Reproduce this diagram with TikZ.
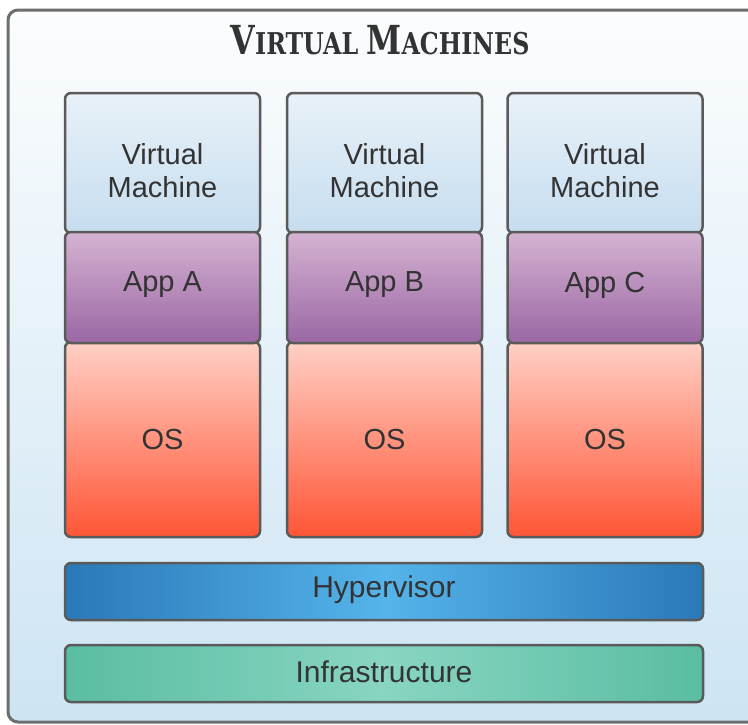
\documentclass[tikz,border=0pt]{standalone}
\usepackage{fontspec}
\setmainfont{Liberation Sans}
\newfontfamily\titlefont{DejaVu Serif Condensed}
\usetikzlibrary{positioning}
\definecolor{bordc}{HTML}{5A5A5A}
\definecolor{framec}{HTML}{6E6E6E}
\definecolor{txtc}{HTML}{333333}
\definecolor{vmtop}{HTML}{E8F1F8}
\definecolor{vmbot}{HTML}{C6DDEF}
\definecolor{apptop}{HTML}{D5B3D2}
\definecolor{appbot}{HTML}{9A67A4}
\definecolor{ostop}{HTML}{FFD0C5}
\definecolor{osbot}{HTML}{FF5536}
\definecolor{hypedge}{HTML}{2A78B8}
\definecolor{hypmid}{HTML}{55B4EA}
\definecolor{infedge}{HTML}{5ABDA2}
\definecolor{infmid}{HTML}{88D5C2}
\definecolor{bgtop}{HTML}{FBFDFE}
\definecolor{bgbot}{HTML}{CDE4F3}
\tikzset{
  layerbox/.style={draw=bordc, line width=2.5pt, rounded corners=6pt, inner sep=0pt, minimum width=195pt},
  vmbox/.style={layerbox, top color=vmtop, bottom color=vmbot, minimum height=140pt},
  appbox/.style={layerbox, top color=apptop, bottom color=appbot, minimum height=111pt},
  osbox/.style={layerbox, top color=ostop, bottom color=osbot, minimum height=195pt},
  barbox/.style={draw=bordc, line width=2.5pt, rounded corners=6pt, inner sep=0pt, minimum width=638pt, minimum height=57pt},
  lbl/.style={text=txtc, font=\fontsize{29}{33}\selectfont, align=center, inner sep=0pt},
  barlbl/.style={text=txtc, font=\fontsize{30}{33}\selectfont, inner sep=0pt}
}
\begin{document}
\begin{tikzpicture}[x=1pt,y=-1pt]
\useasboundingbox (0,0) rectangle (748,724);
\clip (0,0) rectangle (748,724);
\fill[white] (0,0) rectangle (748,724);
\node[draw=framec, line width=3pt, rounded corners=10pt, top color=bgtop, bottom color=bgbot, minimum width=762pt, minimum height=712pt, inner sep=0pt] (frame) at (389,366) {};
\node[text=txtc, inner sep=0pt] (title) at (380,40) {\scalebox{0.88}[1]{\titlefont\bfseries\fontsize{40}{40}\selectfont V\fontsize{30}{30}\selectfont IRTUAL \fontsize{40}{40}\selectfont M\fontsize{30}{30}\selectfont ACHINES}};
% columns
\foreach \n/\cx/\app in {1/162.5/A, 2/384.5/B, 3/605/C}{
  \node[vmbox] (vm\n) at (\cx,163) {};
  \node[lbl] (vmt\n) at (\cx,171) {Virtual\\Machine};
  \node[osbox] (os\n) at (\cx,439.5) {};
  \node[appbox] (app\n) at (\cx,287.5) {};
  \node[lbl] (appt\n) at (\cx,285) {App \app};
  \node[lbl] (ost\n) at (\cx,440) {OS};
}
\node[barbox, left color=hypedge, right color=hypedge, middle color=hypmid] (hyp) at (384,591.5) {};
\node[barlbl] (hypt) at (384,590) {Hypervisor};
\node[barbox, left color=infedge, right color=infedge, middle color=infmid] (inf) at (384,673.5) {};
\node[barlbl] (inft) at (384,672) {Infrastructure};
\end{tikzpicture}
\end{document}
